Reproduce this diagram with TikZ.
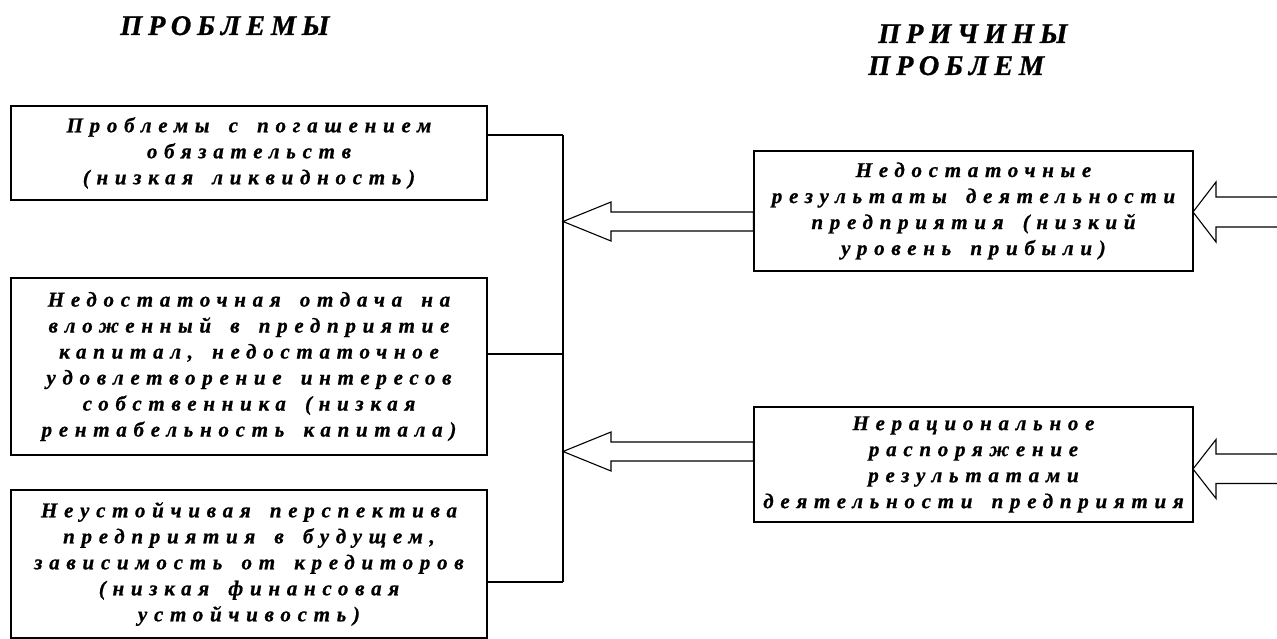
\documentclass[tikz,border=0pt]{standalone}
\usepackage{fontspec}
\setmainfont{Liberation Serif}
\newfontfamily\bxfont[LetterSpace=32,WordSpace=1.6,BoldItalicFeatures={FakeBold=0.8}]{Liberation Serif}
\newfontfamily\ttfont[LetterSpace=20,BoldItalicFeatures={FakeBold=0.8}]{Liberation Serif}
\usetikzlibrary{calc}
\begin{document}
\begin{tikzpicture}[x=1pt,y=-1pt,
  box/.style={draw, line width=1.1pt, inner sep=0pt, align=center,
    font=\bxfont\fontsize{21}{26}\selectfont\bfseries\itshape},
  ttl/.style={inner sep=0pt, anchor=base west,
    font=\ttfont\fontsize{28.5}{30}\selectfont\bfseries\itshape},
  conn/.style={line width=1.1pt},
  harrow/.style={line width=1.1pt, line join=miter}]
\useasboundingbox (0,0) rectangle (1277,639);
% titles
\node[ttl] (h1) at (120,35) {ПРОБЛЕМЫ};
\node[ttl] (h2) at (878,43) {ПРИЧИНЫ};
\node[ttl] (h3) at (868,75) {ПРОБЛЕМ};
% problem boxes
\node[box, minimum width=476pt, minimum height=94pt] (p1) at (249,153)
  {Проблемы с погашением\\обязательств\\(низкая ликвидность)};
\node[box, minimum width=476pt, minimum height=177pt] (p2) at (249,366.5)
  {Недостаточная отдача на\\вложенный в предприятие\\капитал, недостаточное\\удовлетворение интересов\\собственника (низкая\\рентабельность капитала)};
\node[box, minimum width=476pt, minimum height=148pt] (p3) at (249,564)
  {Неустойчивая перспектива\\предприятия в будущем,\\зависимость от кредиторов\\(низкая финансовая\\устойчивость)};
% cause boxes
\node[box, minimum width=439pt, minimum height=120pt] (c1) at (973.5,211)
  {Недостаточные\\результаты деятельности\\предприятия (низкий\\уровень прибыли)};
\node[box, minimum width=439pt, minimum height=115pt] (c2) at (973.5,464.5)
  {Нерациональное\\распоряжение\\результатами\\деятельности предприятия};
% spine
\coordinate (s1) at (563,135);
\coordinate (s2) at (563,354);
\coordinate (s3) at (563,582);
\draw[conn] (s1) -- (s3);
\draw[conn] (p1.east |- s1) -- (s1);
\draw[conn] (p2.east |- s2) -- (s2);
\draw[conn] (p3.east |- s3) -- (s3);
% hollow arrows from causes to spine
\coordinate (t1) at (563,221.5);
\coordinate (t2) at (563,451.5);
\draw[harrow] (t1) -- ++(48,-19.5) -- ++(0,10) -- ($(c1.west|-t1)+(0,-9.5)$)
  -- ($(c1.west|-t1)+(0,9.5)$) -- ($(t1)+(48,9.5)$) -- ++(0,10) -- cycle;
\draw[harrow] (t2) -- ++(48,-19.5) -- ++(0,10) -- ($(c2.west|-t2)+(0,-9.5)$)
  -- ($(c2.west|-t2)+(0,9.5)$) -- ($(t2)+(48,9.5)$) -- ++(0,10) -- cycle;
% incoming hollow arrows from the right edge
\coordinate (e1) at (1193,212);
\coordinate (e2) at (1193,469);
\draw[harrow] ($(e1)+(84,-15)$) -- ++(-61,0) -- ++(0,-15) -- (e1) -- ++(23,30)
  -- ++(0,-15) -- ++(61,0);
\draw[harrow] ($(e2)+(84,-15)$) -- ++(-61,0) -- ++(0,-14.5) -- (e2) -- ++(23,29.5)
  -- ++(0,-15) -- ++(61,0);
\end{tikzpicture}
\end{document}
